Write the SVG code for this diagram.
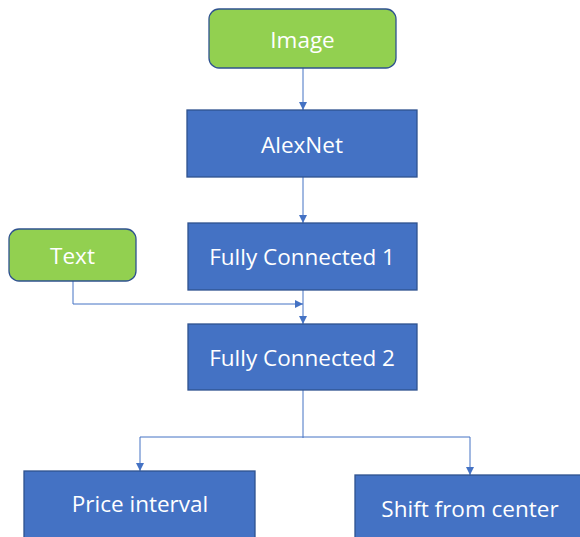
<svg xmlns="http://www.w3.org/2000/svg" width="580" height="537" viewBox="0 0 580 537">
<style>
.g{fill:#92D050;stroke:#2F528F;stroke-width:1.3}
.b{fill:#4472C4;stroke:#2F528F;stroke-width:1.3}
.t{fill:#fff;font-family:"Open Sans","Liberation Sans",sans-serif;font-size:22.5px;text-anchor:middle;dominant-baseline:central}
.c{fill:none;stroke:#4472C4;stroke-width:1}
</style>
<defs>
<marker id="a" viewBox="0 0 10 10" refX="10" refY="5" markerWidth="8" markerHeight="8" markerUnits="userSpaceOnUse" orient="auto">
<path d="M0,0L10,5L0,10z" fill="#4472C4"/>
</marker>
</defs>
<rect width="580" height="537" fill="#fff"/>
<g id="connectors">
<path class="c" d="M303,68V110" marker-end="url(#a)"/>
<path class="c" d="M303,177V223" marker-end="url(#a)"/>
<path class="c" d="M303,290V324" marker-end="url(#a)"/>
<path class="c" d="M73,281V304H303" marker-end="url(#a)"/>
<path class="c" d="M303,390V438"/>
<path class="c" d="M303,437H140V471" marker-end="url(#a)"/>
<path class="c" d="M303,437H470V475" marker-end="url(#a)"/>
</g>
<g id="image"><rect class="g" x="209" y="9" width="187" height="59" rx="10"/><text class="t" x="302.5" y="39">Image</text></g>
<g id="alexnet"><rect class="b" x="187" y="110" width="230" height="67"/><text class="t" x="302" y="144">AlexNet</text></g>
<g id="fc1"><rect class="b" x="188" y="223" width="229" height="67"/><text class="t" x="302" y="256">Fully Connected 1</text></g>
<g id="text"><rect class="g" x="9" y="229" width="127" height="52" rx="10"/><text class="t" x="72.5" y="255">Text</text></g>
<g id="fc2"><rect class="b" x="188" y="324" width="229" height="66"/><text class="t" x="302" y="357">Fully Connected 2</text></g>
<g id="price"><rect class="b" x="24" y="471" width="231" height="70"/><text class="t" x="140" y="503">Price interval</text></g>
<g id="shift"><rect class="b" x="355" y="475" width="230" height="70"/><text class="t" x="470" y="508">Shift from center</text></g>
</svg>
